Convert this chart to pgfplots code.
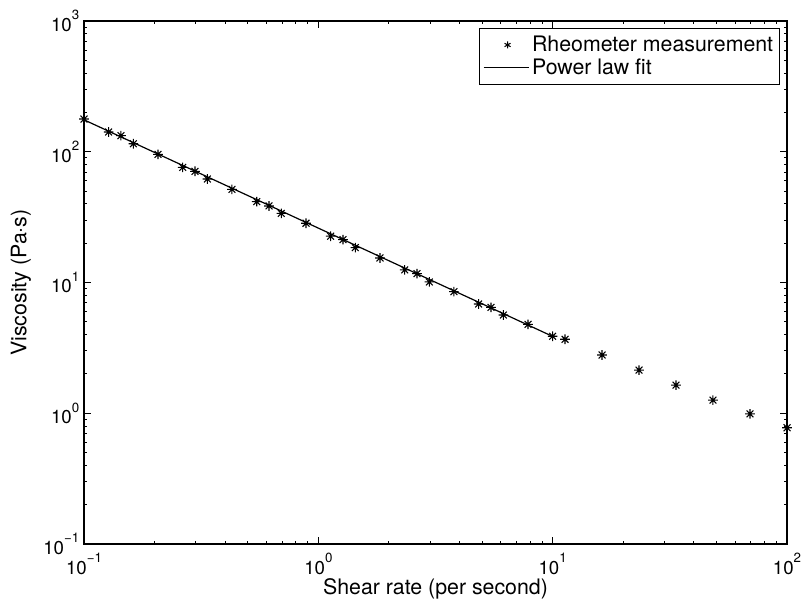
\documentclass[border=0pt]{standalone}
\usepackage{fontspec}
\setmainfont{TeX Gyre Heros}
\usepackage{pgfplots}
\pgfplotsset{compat=1.18}

% MATLAB-style eight-spoke asterisk
\pgfdeclareplotmark{mstar}{%
  \pgfpathmoveto{\pgfqpoint{-\pgfplotmarksize}{0pt}}%
  \pgfpathlineto{\pgfqpoint{\pgfplotmarksize}{0pt}}%
  \pgfpathmoveto{\pgfqpoint{0pt}{-\pgfplotmarksize}}%
  \pgfpathlineto{\pgfqpoint{0pt}{\pgfplotmarksize}}%
  \pgfpathmoveto{\pgfqpoint{-0.707\pgfplotmarksize}{-0.707\pgfplotmarksize}}%
  \pgfpathlineto{\pgfqpoint{0.707\pgfplotmarksize}{0.707\pgfplotmarksize}}%
  \pgfpathmoveto{\pgfqpoint{-0.707\pgfplotmarksize}{0.707\pgfplotmarksize}}%
  \pgfpathlineto{\pgfqpoint{0.707\pgfplotmarksize}{-0.707\pgfplotmarksize}}%
  \pgfusepathqstroke}

\newcommand{\tl}[1]{10\raisebox{0.62em}{\fontsize{10}{10}\selectfont #1}}

\begin{document}
\begin{tikzpicture}
\useasboundingbox (-63pt,-44.25pt) rectangle (540.75pt,408pt);
\begin{loglogaxis}[
  at={(0,0)}, anchor=south west,
  scale only axis,
  width=527.25pt, height=392.25pt,
  xmin=0.1, xmax=100,
  ymin=0.1, ymax=1000,
  axis line style={line width=0.9pt},
  every tick/.style={black, line width=0.6pt},
  major tick length=5pt,
  minor tick length=2.6pt,
  xtick={0.1,1,10,100},
  xticklabels={\tl{−1},\tl{0},\tl{1},\tl{2}},
  ytick={0.1,1,10,100,1000},
  yticklabels={\tl{−1},\tl{0},\tl{1},\tl{2},\tl{3}},
  tick label style={font=\fontsize{14}{14}\selectfont},
  xticklabel style={yshift=-3.5pt},
  xlabel={Shear rate (per second)},
  ylabel={Viscosity (Pa·s)},
  label style={font=\fontsize{16}{16}\selectfont},
  xlabel style={at={([yshift=-34pt]axis description cs:0.5,0)}, anchor=center},
  ylabel style={at={([xshift=-47.25pt]axis description cs:0,0.5)}, anchor=center, rotate=0},
  legend style={at={(1,1)}, anchor=north east, xshift=-5pt, yshift=-5.5pt,
    draw=black, line width=0.75pt, fill=white,
    font=\fontsize{16}{16}\selectfont,
    inner xsep=3pt, inner ysep=3.5pt, row sep=0pt},
  legend cell align=left,
]
\addplot[only marks, mark=mstar, mark size=3.6pt, mark options={line width=0.8pt, black},
  legend image code/.code={\draw[mark=asterisk, mark size=2.6pt, line width=0.7pt, black] plot coordinates {(16pt,0pt)};}]
  coordinates {
  (0.1,178) (0.1274,141.6) (0.1438,132.7) (0.1624,115.2) (0.2069,95.6)
  (0.2637,76.0) (0.2976,70.9) (0.336,61.9) (0.428,51.6) (0.546,41.5)
  (0.616,38.5) (0.695,33.8) (0.886,28.4) (1.129,22.6) (1.274,21.3)
  (1.438,18.5) (1.833,15.4) (2.336,12.5) (2.637,11.7) (2.976,10.1)
  (3.79,8.51) (4.83,6.85) (5.456,6.46) (6.16,5.64) (7.85,4.79)
  (10,3.88) (11.29,3.68) (16.24,2.79) (23.36,2.14) (33.6,1.64)
  (48.3,1.26) (69.5,0.99) (100,0.775)
  };
\addlegendentry{Rheometer measurement}
\addplot[black, line width=0.9pt, no marks,
  legend image code/.code={\draw[black, line width=0.8pt] (-2pt,0pt) -- (32pt,0pt);}]
  coordinates {(0.1,175.5) (10,3.87)};
\addlegendentry{Power law fit}
\end{loglogaxis}
\end{tikzpicture}
\end{document}
